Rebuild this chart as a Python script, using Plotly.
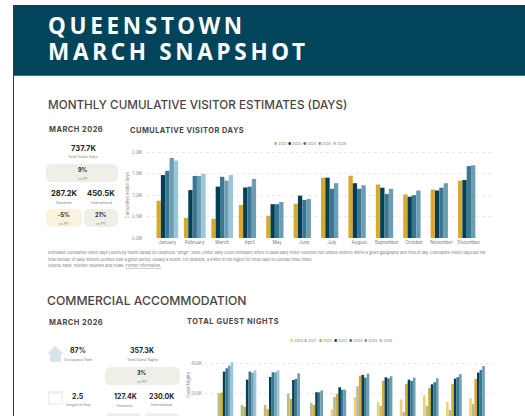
import plotly.graph_objects as go

W, H = 525, 416
MONTHS = ["January","February","March","April","May","June","July","August","September","October","November","December"]

# Cumulative visitor days (millions)
V_2022 = [0.87,0.47,0.45,0.77,0.52,0.80,1.41,1.455,1.25,1.02,1.13,1.34]
V_2023 = [1.47,1.12,1.20,1.18,0.79,0.99,1.41,1.28,1.175,0.965,1.11,1.355]
V_2024 = [1.57,1.45,1.43,1.20,0.79,0.89,1.15,1.15,1.03,1.00,1.175,1.68]
V_2025 = [1.87,1.45,1.34,1.38,0.84,0.91,1.28,1.23,1.15,1.11,1.28,1.70]
V_2026 = [1.81,1.50,1.47,None,None,None,None,None,None,None,None,None]
VISITOR_TICKS = [0,0.5,1.0,1.5,2.0]
VISITOR_TICK_LABELS = ["0.0M","0.5M","1.0M","1.5M","2.0M"]

# Guest nights (thousands)
G_2020 = [None,None,None,None,None,91,175,139,157,186,141,166]
G_2021 = [200,120,120,198,134,175,248,114,73,114,86,127]
G_2022 = [205,107,91,161,120,195,320,286,264,236,264,298]
G_2023 = [348,293,311,291,207,241,325,309,293,261,300,341]
G_2024 = [370,348,343,298,207,225,307,302,284,275,311,359]
G_2025 = [389,341,343,336,220,225,334,316,307,302,330,386]
G_2026 = [411,357,357,None,None,None,None,None,None,None,None,None]
GUEST_TICKS = [200,400]
GUEST_TICK_LABELS = ["200K","400K"]

C = {"2020":"#EFCF7C","2021":"#AEBF9A","2022":"#D9A92F","2023":"#033F55","2024":"#3C7690","2025":"#6B9DB3","2026":"#9CC5D6"}
HEADER = "#024459"
DARK = "#4A4444"
BLACK = "#252423"
GREY = "#808080"
NOTE = "#7A7A7A"
FONT = "Inter"

def fx(p): return p / W
def fy(p): return 1 - p / H

fig = go.Figure()
visitors = {"2022":V_2022,"2023":V_2023,"2024":V_2024,"2025":V_2025,"2026":V_2026}
guests = {"2020":G_2020,"2021":G_2021,"2022":G_2022,"2023":G_2023,"2024":G_2024,"2025":G_2025,"2026":G_2026}
for y, v in visitors.items():
    fig.add_bar(x=MONTHS, y=v, name=y, marker_color=C[y], marker_line_width=0, xaxis="x", yaxis="y", showlegend=False)
for y, v in guests.items():
    fig.add_bar(x=MONTHS, y=v, name=y, marker_color=C[y], marker_line_width=0, xaxis="x2", yaxis="y2", showlegend=False)

shapes, ann = [], []
def text(x, y, t, size=5, color=GREY, bold=False, anchor="center", family=FONT, weight="normal", angle=0, spacing=None):
    if spacing:
        t = f'<span style="letter-spacing:{spacing}px">{t}</span>'
    ann.append(dict(xref="paper", yref="paper", x=fx(x), y=fy(y), text=f"<b>{t}</b>" if bold else t,
                    showarrow=False, xanchor=anchor, yanchor="middle", align="left", textangle=angle,
                    font=dict(size=size, color=color, family=family, weight=weight), borderpad=0))
def rrect(x0, y0, x1, y1, r, color):
    X0, X1, Y0, Y1 = fx(x0), fx(x1), fy(y0), fy(y1)
    rx, ry = r / W, r / H
    p = (f"M{X0+rx},{Y0} L{X1-rx},{Y0} Q{X1},{Y0} {X1},{Y0-ry} L{X1},{Y1+ry} Q{X1},{Y1} {X1-rx},{Y1} "
         f"L{X0+rx},{Y1} Q{X0},{Y1} {X0},{Y1+ry} L{X0},{Y0-ry} Q{X0},{Y0} {X0+rx},{Y0} Z")
    shapes.append(dict(type="path", xref="paper", yref="paper", path=p, fillcolor=color, line_width=0, layer="below"))
def rect(x0, y0, x1, y1, color):
    shapes.append(dict(type="rect", xref="paper", yref="paper", x0=fx(x0), x1=fx(x1), y0=fy(y0), y1=fy(y1),
                       fillcolor=color, line_width=0, layer="below"))
def poly(points, color):
    p = "M" + " L".join(f"{fx(a)},{fy(b)}" for a, b in points) + " Z"
    shapes.append(dict(type="path", xref="paper", yref="paper", path=p, fillcolor=color, line_width=0, layer="below"))

# Header and page edge
rect(13, 5, W, 75, HEADER)
rect(13, 75, W, 76, "#3F7480")
rect(13, 5, 14, H, "#3A3A3A")
text(47, 25.5, "QUEENSTOWN", 22.5, "white", True, "left", "Noto Sans", spacing=3.7)
text(47, 51, "MARCH SNAPSHOT", 22.5, "white", True, "left", "Noto Sans", spacing=3.7)

# Headings
text(47, 105, "MONTHLY CUMULATIVE VISITOR ESTIMATES (DAYS)", 11.7, DARK, False, "left", weight=500)
text(47.5, 129, "MARCH 2026", 7.4, DARK, True, "left", spacing=0.5)
text(129, 130, "CUMULATIVE VISITOR DAYS", 7.4, DARK, True, "left", spacing=0.5)
text(46, 300, "COMMERCIAL ACCOMMODATION", 12.2, DARK, False, "left", weight=500)
text(47.5, 322, "MARCH 2026", 7.4, DARK, True, "left", spacing=0.5)
text(186, 321, "TOTAL GUEST NIGHTS", 7.4, DARK, True, "left", spacing=0.6)

# Upper KPI cards
rrect(46, 164, 118, 182, 6, "#EEF0E8")
rrect(46, 209, 82, 227, 6, "#FAF2DD")
rrect(84, 209, 118, 227, 6, "#EEF0E8")
text(83, 148, "737.7K", 7.6, BLACK, True)
text(83, 157.5, "Total Visitor Days", 3.6)
text(83, 170, "9%", 5.5, BLACK, True)
text(83, 178.5, "vs PY", 3.6)
text(64, 193, "287.2K", 7.6, BLACK, True)
text(101, 193, "450.5K", 7.6, BLACK, True)
text(64, 203, "Domestic", 3.6)
text(101, 202.5, "International", 3.6)
text(64, 215, "-5%", 5.5, BLACK, True)
text(64, 224, "vs PY", 3.6)
text(101, 215, "21%", 5.5, BLACK, True)
text(101, 224, "vs PY", 3.6)

# Footnote
text(47, 252.5, 'Estimated cumulative visitor days counts by month based on cellphone "pings". Note: Visitor daily count estimates refers to peak daily visitor volumes (not unique visitors) within a given geography and time of day. Cumulative visitor days are the', 3.8, NOTE, False, "left")
text(47, 259, "total number of daily visitors counted over a given period, usually a month. For example, a visitor in the region for three days is counted three times.", 3.8, NOTE, False, "left")
text(47, 265, "Source: MBIE Tourism Volumes and Flows. <u>Further information.</u>", 3.8, NOTE, False, "left")

# Lower KPI cards
poly([(47,354),(55,346),(64,354),(61,354),(61,362),(50,362),(50,354)], "#D8E5EA")
rect(48, 391, 63, 405, "#EAF1F4")
rect(49.5, 394, 61.5, 403.5, "#FFFFFF")
rrect(105, 367, 180, 385, 6, "#EEF0E8")
rrect(105, 413, 141, 430, 6, "#EEF0E8")
rrect(144, 413, 180, 430, 6, "#EEF0E8")
text(78, 350.5, "87%", 7, BLACK, True)
text(78, 360, "Occupancy Rate", 3.6)
text(142, 350.5, "357.3K", 7, BLACK, True)
text(142, 360, "Total Guest Nights", 3.6)
text(142, 373, "3%", 5.5, BLACK, True)
text(142, 382, "vs PY", 3.6)
text(78, 396, "2.5", 7, BLACK, True)
text(78, 405, "Length of Stay", 3.6)
text(125, 396.5, "127.4K", 7, BLACK, True)
text(125, 406, "Domestic", 3.6)
text(161, 396, "230.0K", 7, BLACK, True)
text(161, 405, "International", 3.6)

# Legends and axis titles
for i, y in enumerate(visitors):
    text(272.5 + 14.8 * i, 144, f'<span style="color:{C[y]}">●</span> {y}', 3.6, GREY, False, "left")
for i, y in enumerate(guests):
    text(288.5 + 14.9 * i, 341.3, f'<span style="color:{C[y]}">●</span> {y}', 3.6, GREY, False, "left")
text(127.7, 195.5, "Cumulative visitor days", 4.2, "#8A8A8A", angle=-90)
text(187.7, 385, "Guest Nights", 4.2, "#8A8A8A", angle=-90)

grid = dict(showgrid=True, gridcolor="#EAEAEA", griddash="dot", gridwidth=1, zeroline=False, showline=False, ticks="")
fig.update_layout(
    width=W, height=H, margin=dict(l=0, r=0, t=0, b=0, autoexpand=False),
    paper_bgcolor="white", plot_bgcolor="white", barmode="group",
    bargap=0.21, bargroupgap=0, showlegend=False, shapes=shapes, annotations=ann,
    font=dict(family=FONT, color=GREY),
    xaxis=dict(domain=[fx(146), fx(493)], range=[-0.78, 11.88], anchor="y", showgrid=False, zeroline=False,
               tickfont=dict(size=4.6, color="#777777"), ticks="", ticklen=0, tickangle=0,
               categoryorder="array", categoryarray=MONTHS),
    yaxis=dict(domain=[fy(238), fy(150)], range=[0, 2.056], anchor="x", tickvals=VISITOR_TICKS, ticktext=VISITOR_TICK_LABELS,
               tickfont=dict(size=4.3, color="#8A8A8A"), ticklabelstandoff=3, **grid),
    xaxis2=dict(domain=[fx(204), fx(497)], range=[-0.87, 11.81], anchor="y2", showgrid=False, zeroline=False, showticklabels=False,
                categoryorder="array", categoryarray=MONTHS),
    yaxis2=dict(domain=[0, fy(355)], range=[45, 461], anchor="x2", tickvals=GUEST_TICKS, ticktext=GUEST_TICK_LABELS,
                tickfont=dict(size=4.3, color="#8A8A8A"), ticklabelstandoff=1, **grid),
)
fig.write_html("out.html", config=dict(displayModeBar=False),
               post_script="document.body.style.margin='0';document.body.style.overflow='hidden';")
